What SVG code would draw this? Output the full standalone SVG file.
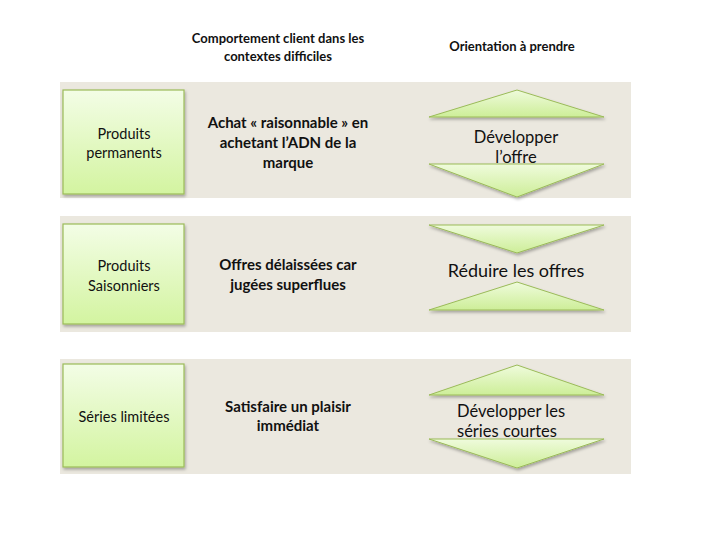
<svg xmlns="http://www.w3.org/2000/svg" width="720" height="540" viewBox="0 0 720 540">
<defs>
<linearGradient id="gBox" x1="0" y1="0" x2="0" y2="1">
<stop offset="0" stop-color="#f3fde6"/>
<stop offset="1" stop-color="#d3f4a0"/>
</linearGradient>
<linearGradient id="gTri" x1="0" y1="0" x2="0" y2="1">
<stop offset="0" stop-color="#effbdc"/>
<stop offset="1" stop-color="#cdee98"/>
</linearGradient>
<filter id="sh" x="-10%" y="-10%" width="130%" height="140%">
<feDropShadow dx="1" dy="2" stdDeviation="1.5" flood-color="#000" flood-opacity="0.3"/>
</filter>
</defs>
<style>
.band{fill:#ebe8df}
.box{fill:url(#gBox);stroke:#9bbb59;stroke-width:1.2;filter:url(#sh)}
.tri{fill:url(#gTri);stroke:#9bbb59;stroke-width:1;filter:url(#sh)}
.hd{font-family:Lato,"Liberation Sans",sans-serif;font-size:13px;font-weight:bold;fill:#111;text-anchor:middle}
.bt{font-family:Lato,"Liberation Sans",sans-serif;font-size:14.5px;fill:#111;text-anchor:middle}
.mt{font-family:Lato,"Liberation Sans",sans-serif;font-size:15px;font-weight:bold;fill:#111;text-anchor:middle}
.rt{font-family:Lato,"Liberation Sans",sans-serif;font-size:16.5px;fill:#111;text-anchor:middle}
</style>
<g id="headers">
<text class="hd" x="278" y="43">Comportement client dans les</text>
<text class="hd" x="278" y="61">contextes difficiles</text>
<text class="hd" x="512" y="51">Orientation à prendre</text>
</g>
<g id="row1">
<rect class="band" x="60" y="82" width="571" height="116"/>
<rect class="box" x="63" y="90" width="121" height="104"/>
<text class="bt" x="124" y="139">Produits</text>
<text class="bt" x="124" y="158">permanents</text>
<text class="mt" x="288" y="128">Achat « raisonnable » en</text>
<text class="mt" x="288" y="148">achetant l’ADN de la</text>
<text class="mt" x="288" y="168">marque</text>
<polygon class="tri" points="517,90 604,117 429,117"/>
<polygon class="tri" points="429,164 604,164 517,197"/>
<text class="rt" x="516" y="143">Développer</text>
<text class="rt" x="516" y="163">l’offre</text>
</g>
<g id="row2">
<rect class="band" x="60" y="216" width="571" height="116"/>
<rect class="box" x="63" y="224" width="121" height="100"/>
<text class="bt" x="124" y="271">Produits</text>
<text class="bt" x="124" y="291">Saisonniers</text>
<text class="mt" x="288" y="270">Offres délaissées car</text>
<text class="mt" x="288" y="290">jugées superflues</text>
<polygon class="tri" points="429,225 604,225 517,253"/>
<polygon class="tri" points="517,282 604,310 429,310"/>
<text class="rt" x="516" y="277" style="font-size:18px">Réduire les offres</text>
</g>
<g id="row3">
<rect class="band" x="60" y="359" width="571" height="115"/>
<rect class="box" x="63" y="364" width="121" height="103"/>
<text class="bt" x="124" y="422">Séries limitées</text>
<text class="mt" x="288" y="412">Satisfaire un plaisir</text>
<text class="mt" x="288" y="431">immédiat</text>
<polygon class="tri" points="517,365 604,395 429,395"/>
<polygon class="tri" points="429,439 604,439 517,468"/>
<text class="rt" x="457" y="417" style="text-anchor:start">Développer les</text>
<text class="rt" x="457" y="437" style="text-anchor:start">séries courtes</text>
</g>
<g id="connectors"/>
</svg>
